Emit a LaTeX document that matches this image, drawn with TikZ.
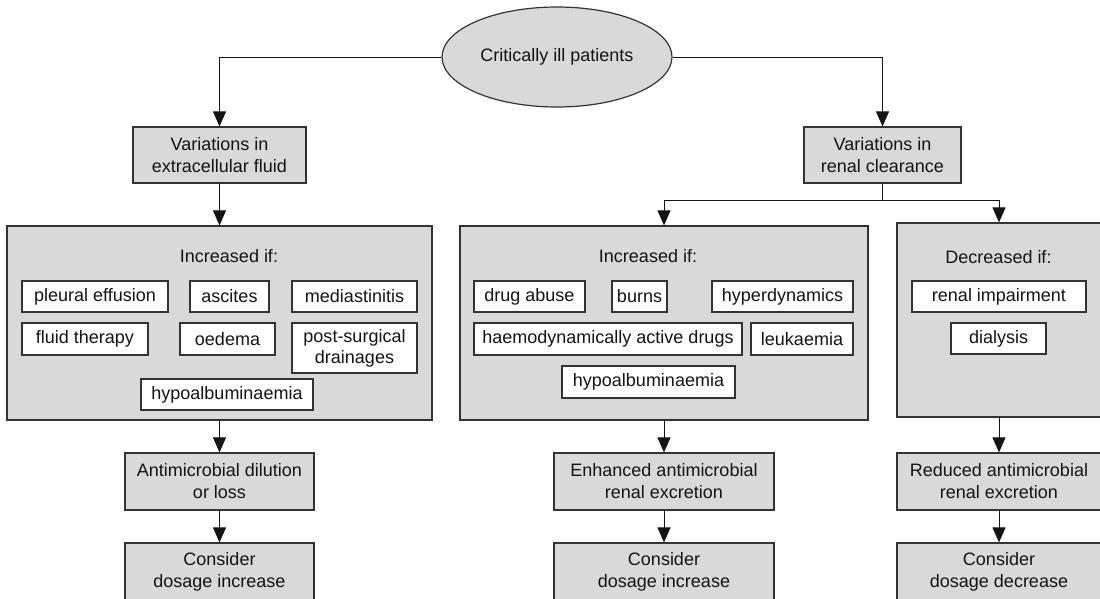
\documentclass[tikz,border=0pt]{standalone}
\usepackage{fontspec}
\setmainfont{Liberation Sans}
\usetikzlibrary{arrows.meta,shapes.geometric}
\definecolor{boxgray}{HTML}{D9D9D9}
\definecolor{edge}{HTML}{333333}
\definecolor{ink}{HTML}{141414}
\tikzset{
  box/.style={draw=edge, fill=boxgray, line width=1.2pt, inner sep=0pt, align=center, text=ink,
    font=\fontsize{18}{22}\selectfont},
  item/.style={draw=edge, fill=white, line width=1.1pt, inner sep=0pt, align=center, text=ink,
    font=\fontsize{18}{21}\selectfont, minimum height=31pt},
  lbl/.style={inner sep=0pt, text=ink, font=\fontsize{18}{22}\selectfont},
  arr/.style={-{Triangle[width=13pt,length=15pt]}, line width=1pt, draw=ink},
  ln/.style={line width=1pt, draw=ink}
}
\begin{document}
\begin{tikzpicture}[x=1pt,y=-1pt]
\useasboundingbox (0,0) rectangle (1100,598);
% top
\node[box, ellipse, minimum width=230pt, minimum height=100pt] (ell) at (557,57) {Critically ill patients};
\node[box, minimum width=173pt, minimum height=56pt] (v1) at (219.5,155) {Variations in\\extracellular fluid};
\node[box, minimum width=157pt, minimum height=56pt] (v2) at (882.5,155) {Variations in\\renal clearance};
% big panels
\node[box, minimum width=425pt, minimum height=194pt] (A) at (219.5,323) {};
\node[box, minimum width=408pt, minimum height=194pt] (B) at (664,323) {};
\node[box, minimum width=204pt, minimum height=194pt] (C) at (999,320) {};
\node[lbl] (lA) at (229,256) {Increased if:};
\node[lbl] (lB) at (648,256) {Increased if:};
\node[lbl] (lC) at (998.5,257) {Decreased if:};
% panel A items
\node[item, minimum width=146pt] (pe) at (95,296.5) {pleural effusion};
\node[item, minimum width=79pt] (as) at (229.5,296.5) {ascites};
\node[item, minimum width=125pt] (me) at (354.5,296.5) {mediastinitis};
\node[item, minimum width=126pt, minimum height=32pt] (ft) at (85,339) {fluid therapy};
\node[item, minimum width=95pt, minimum height=32pt] (oe) at (227.5,339) {oedema};
\node[item, minimum width=125pt, minimum height=50pt] (ps) at (354.5,348) {post-surgical\\drainages};
\node[item, minimum width=172pt] (hA) at (227,394.5) {hypoalbuminaemia};
% panel B items
\node[item, minimum width=111pt] (da) at (529.5,296.5) {drug abuse};
\node[item, minimum width=55pt] (bu) at (639.5,296.5) {burns};
\node[item, minimum width=141pt] (hd) at (782.5,296.5) {hyperdynamics};
\node[item, minimum width=268pt, minimum height=32pt] (ha) at (608,339) {haemodynamically active drugs};
\node[item, minimum width=102pt, minimum height=32pt] (le) at (802,339) {leukaemia};
\node[item, minimum width=173pt, minimum height=32pt] (hB) at (648.5,382) {hypoalbuminaemia};
% panel C items
\node[item, minimum width=174pt] (ri) at (999,296.5) {renal impairment};
\node[item, minimum width=95pt] (di) at (998.5,338.5) {dialysis};
% lower boxes
\node[box, minimum width=189pt, minimum height=57pt] (dA) at (219.5,481.5) {Antimicrobial dilution\\or loss};
\node[box, minimum width=189pt, minimum height=58pt] (cA) at (219.5,572) {Consider\\dosage increase};
\node[box, minimum width=220pt, minimum height=57pt] (eB) at (664,481.5) {Enhanced antimicrobial\\renal excretion};
\node[box, minimum width=220pt, minimum height=58pt] (cB) at (664,572) {Consider\\dosage increase};
\node[box, minimum width=204pt, minimum height=57pt] (rC) at (999,481.5) {Reduced antimicrobial\\renal excretion};
\node[box, minimum width=204pt, minimum height=58pt] (cC) at (999,572) {Consider\\dosage decrease};
% connectors
\coordinate (split) at (882.5,200);
\draw[arr] (ell.west) -| (v1.north);
\draw[arr] (ell.east) -| (v2.north);
\draw[arr] (v1.south) -- (A.north);
\draw[ln] (v2.south) -- (split);
\draw[arr] (split) -| (B.north);
\draw[arr] (split) -| (C.north);
\draw[arr] (A.south) -- (dA.north);
\draw[arr] (dA.south) -- (cA.north);
\draw[arr] (B.south) -- (eB.north);
\draw[arr] (eB.south) -- (cB.north);
\draw[arr] (C.south) -- (rC.north);
\draw[arr] (rC.south) -- (cC.north);
\end{tikzpicture}
\end{document}
